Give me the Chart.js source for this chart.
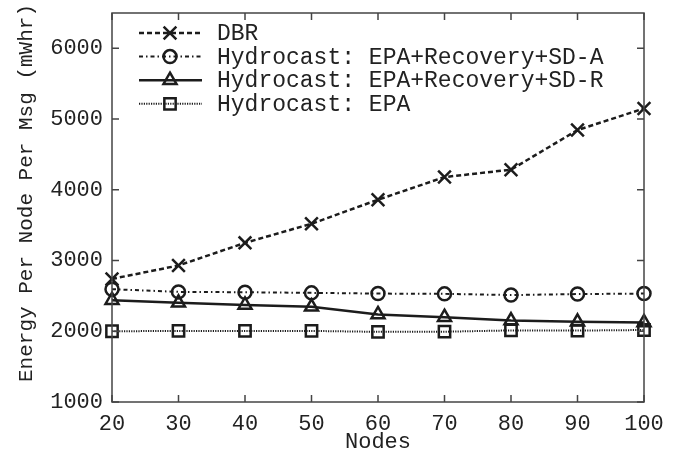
<!DOCTYPE html>
<html>
<head>
<meta charset="utf-8">
<script src="https://cdn.jsdelivr.net/npm/chart.js@4/dist/chart.umd.min.js"></script>
<style>
html,body{margin:0;padding:0;background:#fff;}
#wrap{width:677px;height:459px;position:relative;}
</style>
</head>
<body>
<div id="wrap"><canvas id="c"></canvas></div>
<script>
const nodes = [20, 30, 40, 50, 60, 70, 80, 90, 100];
const dbr = [2740, 2930, 3250, 3520, 3860, 4180, 4285, 4845, 5150];
const sdA = [2595, 2557, 2552, 2543, 2533, 2529, 2512, 2526, 2533];
const sdR = [2440, 2402, 2372, 2345, 2238, 2200, 2152, 2133, 2125];
const epa = [2000, 2005, 2005, 2005, 1992, 1994, 2012, 2010, 2018];
const xTicks = [20, 30, 40, 50, 60, 70, 80, 90, 100];
const yTicks = [1000, 2000, 3000, 4000, 5000, 6000];
const seriesLabels = ['DBR', 'Hydrocast: EPA+Recovery+SD-A', 'Hydrocast: EPA+Recovery+SD-R', 'Hydrocast: EPA'];
const xTitle = 'Nodes';
const yTitle = 'Energy Per Node Per Msg (mWhr)';

const ink = '#1c1c1c';
const FONT = "'Liberation Mono', 'DejaVu Sans Mono', monospace";

function pts(arr){ return nodes.map((n,i)=>({x:n, y:arr[i]})); }

const styles = [
  {dash:[5,3], width:2.5, point:'crossRot', r:9},
  {dash:[4,3,1.5,3], width:2, point:'circle', r:6.5},
  {dash:[], width:2.5, point:'triangle', r:7.5},
  {dash:[1.2,1.2], width:2, point:'rect', r:8}
];
const seriesData = [dbr, sdA, sdR, epa];

const datasets = seriesData.map((arr,i)=>({
  label: seriesLabels[i],
  data: pts(arr),
  borderColor: ink,
  backgroundColor: 'rgba(0,0,0,0)',
  borderWidth: styles[i].width,
  borderDash: styles[i].dash,
  pointStyle: styles[i].point,
  pointRadius: styles[i].r,
  pointBorderWidth: 2.5,
  pointBorderColor: ink,
  pointBackgroundColor: 'rgba(0,0,0,0)',
  tension: 0,
  clip: false
}));

const framePlugin = {
  id: 'frame',
  afterDraw(chart){
    const {ctx, chartArea:a, scales} = chart;
    ctx.save();
    ctx.strokeStyle = '#444';
    ctx.lineWidth = 1.5;
    ctx.setLineDash([]);
    ctx.strokeRect(a.left, a.top, a.right-a.left, a.bottom-a.top);
    const L = 7;
    ctx.beginPath();
    xTicks.forEach(v=>{
      const x = scales.x.getPixelForValue(v);
      ctx.moveTo(x, a.bottom); ctx.lineTo(x, a.bottom-L);
      ctx.moveTo(x, a.top); ctx.lineTo(x, a.top+L);
    });
    yTicks.forEach(v=>{
      const y = scales.y.getPixelForValue(v);
      ctx.moveTo(a.left, y); ctx.lineTo(a.left+L, y);
      ctx.moveTo(a.right, y); ctx.lineTo(a.right-L, y);
    });
    ctx.stroke();

    // y-axis title
    ctx.save();
    ctx.translate(26, 193);
    ctx.rotate(-Math.PI/2);
    ctx.font = "21px " + FONT;
    ctx.fillStyle = '#222';
    ctx.textAlign = 'center';
    ctx.textBaseline = 'middle';
    ctx.fillText(yTitle, 0, 0);
    ctx.restore();

    // legend
    const x0 = 139, x1 = 202, xm = 170, tx = 217;
    const y0 = 33, dy = 23.6;
    ctx.font = "23px " + FONT;
    ctx.textBaseline = 'middle';
    ctx.textAlign = 'left';
    chart.data.datasets.forEach((ds,i)=>{
      const y = y0 + dy*i;
      ctx.strokeStyle = ink;
      ctx.lineWidth = ds.borderWidth;
      ctx.setLineDash(ds.borderDash);
      ctx.beginPath(); ctx.moveTo(x0,y); ctx.lineTo(x1,y); ctx.stroke();
      ctx.setLineDash([]);
      ctx.lineWidth = ds.pointBorderWidth;
      ctx.fillStyle = 'rgba(0,0,0,0)';
      Chart.helpers.drawPoint(ctx, {pointStyle: ds.pointStyle, radius: ds.pointRadius, rotation: 0, borderWidth: ds.pointBorderWidth}, xm, y);
      ctx.fillStyle = '#222';
      ctx.fillText(ds.label, tx, y+1);
    });
    ctx.restore();
  }
};

new Chart(document.getElementById('c'), {
  type: 'line',
  data: { datasets },
  options: {
    responsive: true,
    maintainAspectRatio: false,
    animation: false,
    layout: { padding: { top: 13, right: 33, left: 0, bottom: 0 } },
    plugins: { legend: { display: false }, tooltip: { enabled: false } },
    scales: {
      x: {
        type: 'linear', min: 20, max: 100,
        afterBuildTicks(s){ s.ticks = xTicks.map(v=>({value:v})); },
        afterFit(s){ s.height = 57; s.paddingLeft = 0; s.paddingRight = 0; },
        grid: { display: false, drawTicks: false },
        border: { display: false },
        ticks: { color: '#222', padding: 9, font: { family: FONT, size: 22 }, callback: v=>String(v) },
        title: { display: true, text: xTitle, color: '#222', font: { family: FONT, size: 22 }, padding: { top: 0, bottom: 4 } }
      },
      y: {
        type: 'linear', min: 1000, max: 6500,
        afterBuildTicks(s){ s.ticks = yTicks.map(v=>({value:v})); },
        afterFit(s){ s.width = 112; s.paddingTop = 0; s.paddingBottom = 0; },
        grid: { display: false, drawTicks: false },
        border: { display: false },
        ticks: { color: '#222', padding: 9, font: { family: FONT, size: 22 }, callback: v=>String(v) },
        title: { display: false }
      }
    }
  },
  plugins: [framePlugin]
});
</script>
</body>
</html>
